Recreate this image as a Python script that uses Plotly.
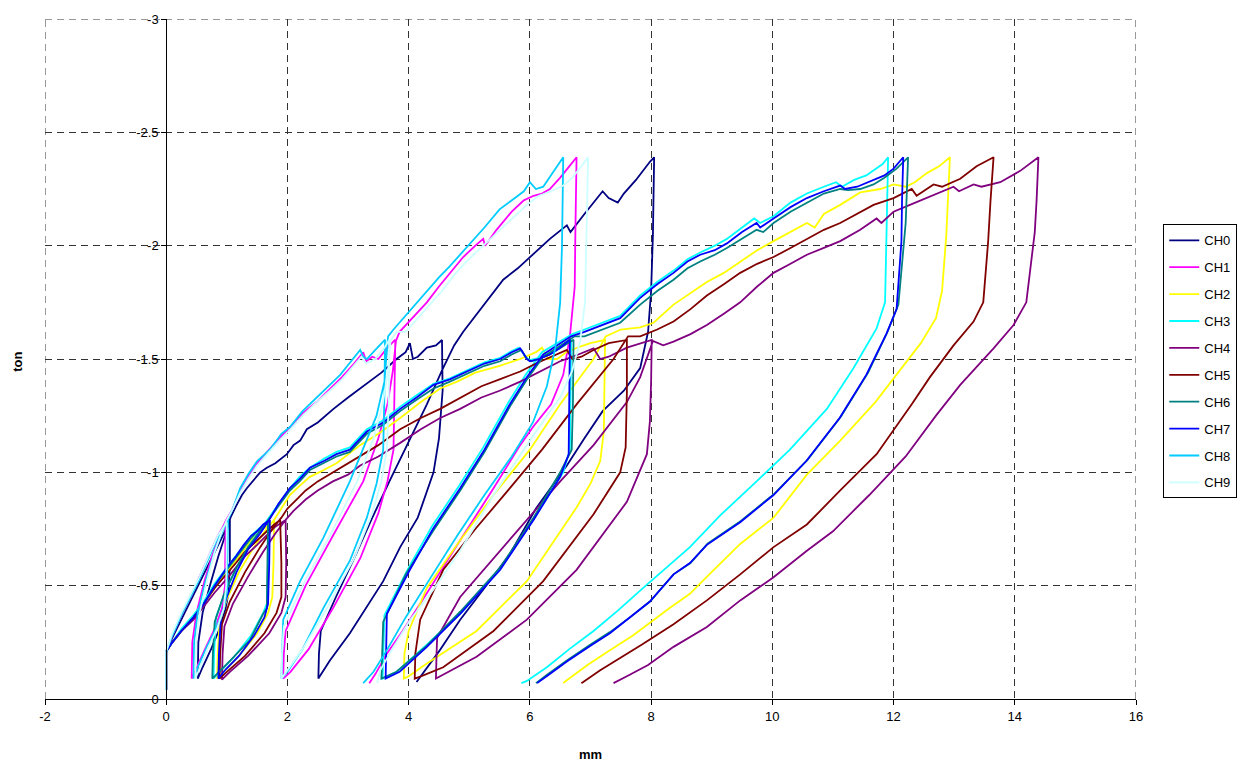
import plotly.graph_objects as go

# ---- data: (mm, ton) points, per channel ----
CH0 = [(0,-0.04),(0,-0.21),(0.1,-0.27),(0.25,-0.35),(0.4,-0.43),(0.55,-0.51),(0.7,-0.59),(0.85,-0.67),(0.95,-0.73),(1.05,-0.79),
(1.05,-0.6),(1.03,-0.47),(0.98,-0.4),(0.88,-0.31),(0.74,-0.22),(0.6,-0.14),(0.52,-0.09),
(0.53,-0.25),(0.6,-0.38),(0.72,-0.5),(0.86,-0.63),(0.97,-0.72),(1.06,-0.8),
(1.15,-0.85),(1.25,-0.9),(1.33,-0.93),(1.45,-0.97),(1.55,-1.0),(1.66,-1.02),(1.8,-1.04),(1.99,-1.08),(2.1,-1.12),(2.21,-1.14),(2.32,-1.19),(2.5,-1.22),(2.76,-1.28),(3.0,-1.33),(3.31,-1.39),(3.55,-1.44),(3.8,-1.5),(3.95,-1.53),(4.02,-1.57),(4.07,-1.5),(4.15,-1.51),(4.3,-1.55),(4.45,-1.56),(4.55,-1.584),
(4.56,-1.36),(4.5,-1.15),(4.41,-1.0),(4.15,-0.8),(3.86,-0.67),(3.58,-0.52),(3.03,-0.29),(2.7,-0.17),(2.51,-0.09),
(2.52,-0.2),(2.55,-0.3),(2.8,-0.45),(3.1,-0.62),(3.4,-0.8),(3.7,-0.97),(4.02,-1.15),(4.3,-1.3),(4.55,-1.45),(4.75,-1.56),(4.9,-1.62),
(5.1,-1.69),(5.3,-1.76),(5.56,-1.85),(5.8,-1.9),(6.0,-1.95),(6.33,-2.03),(6.61,-2.09),(6.67,-2.06),(6.9,-2.14),(7.2,-2.24),(7.3,-2.21),(7.45,-2.19),(7.55,-2.23),(7.75,-2.29),(7.98,-2.37),(8.05,-2.39),
(8.03,-2.05),(8.0,-1.8),(7.95,-1.62),(7.82,-1.46),(7.55,-1.36),(7.2,-1.27),(6.9,-1.15),(6.61,-1.03),(6.1,-0.84),(5.67,-0.64),(5.25,-0.49),(4.85,-0.35),(4.5,-0.21),(4.25,-0.12),(4.13,-0.075)]

CH1 = [(0,-0.04),(0,-0.21),(0.1,-0.28),(0.25,-0.37),(0.4,-0.45),(0.55,-0.54),(0.7,-0.63),(0.85,-0.72),(0.98,-0.78),
(0.97,-0.5),(0.92,-0.4),(0.8,-0.31),(0.64,-0.22),(0.5,-0.14),(0.42,-0.09),
(0.43,-0.25),(0.5,-0.38),(0.63,-0.52),(0.78,-0.65),(0.9,-0.74),(0.99,-0.79),
(1.1,-0.84),(1.22,-0.92),(1.35,-0.98),(1.5,-1.04),(1.7,-1.1),(1.9,-1.16),(2.05,-1.2),(2.25,-1.26),(2.48,-1.31),(2.7,-1.37),(2.9,-1.42),(3.1,-1.48),(3.25,-1.53),(3.3,-1.49),(3.4,-1.51),(3.5,-1.5),(3.65,-1.55),(3.78,-1.585),
(3.77,-1.35),(3.75,-1.1),(3.65,-0.96),(3.5,-0.82),(3.2,-0.62),(2.75,-0.4),(2.35,-0.22),(2.05,-0.12),(1.93,-0.09),
(1.94,-0.2),(1.97,-0.3),(2.3,-0.5),(2.75,-0.72),(3.25,-0.96),(3.5,-1.15),(3.65,-1.3),(3.74,-1.45),(3.79,-1.58),(3.85,-1.62),
(4.1,-1.69),(4.3,-1.75),(4.5,-1.82),(4.68,-1.88),(4.9,-1.95),(5.1,-2.0),(5.23,-2.03),(5.26,-2.0),(5.45,-2.07),(5.7,-2.15),(5.9,-2.2),(6.06,-2.22),(6.2,-2.23),(6.33,-2.25),(6.5,-2.3),(6.65,-2.35),(6.77,-2.39),
(6.75,-2.05),(6.74,-1.82),(6.66,-1.6),(6.55,-1.43),(6.35,-1.3),(6.05,-1.2),(5.84,-1.12),(5.4,-0.93),(4.85,-0.7),(4.5,-0.55),(4.19,-0.42),(3.9,-0.3),(3.64,-0.2),(3.45,-0.11),(3.35,-0.07)]

CH2 = [(0,-0.04),(0,-0.21),(0.1,-0.25),(0.25,-0.3),(0.45,-0.36),(0.62,-0.42),(0.8,-0.49),(1.0,-0.56),(1.15,-0.61),(1.28,-0.66),(1.4,-0.7),(1.55,-0.74),(1.65,-0.76),(1.78,-0.785),
(1.77,-0.6),(1.75,-0.45),(1.68,-0.38),(1.5,-0.29),(1.2,-0.19),(0.95,-0.12),(0.84,-0.09),
(0.85,-0.2),(0.88,-0.34),(1.0,-0.44),(1.2,-0.56),(1.4,-0.65),(1.6,-0.73),(1.78,-0.79),
(1.9,-0.84),(2.04,-0.9),(2.2,-0.94),(2.37,-0.98),(2.6,-1.01),(2.81,-1.04),(3.2,-1.12),(3.5,-1.17),(3.86,-1.24),(4.2,-1.31),(4.52,-1.37),(4.8,-1.4),(5.1,-1.44),(5.5,-1.47),(5.84,-1.5),(6.1,-1.53),(6.2,-1.55),(6.3,-1.5),(6.45,-1.5),(6.6,-1.53),(6.83,-1.555),(7.0,-1.57),(7.24,-1.584),
(7.23,-1.35),(7.22,-1.18),(7.16,-1.05),(7.0,-0.95),(6.77,-0.845),(5.95,-0.52),(5.12,-0.3),(4.3,-0.157),(4.0,-0.1),(3.92,-0.09),
(3.93,-0.2),(4.0,-0.3),(4.3,-0.49),(4.85,-0.7),(5.4,-0.9),(6.0,-1.1),(6.5,-1.3),(6.8,-1.41),(7.05,-1.5),(7.25,-1.6),
(7.5,-1.63),(7.82,-1.64),(8.04,-1.66),(8.37,-1.74),(8.65,-1.79),(8.92,-1.84),(9.2,-1.88),(9.47,-1.93),(9.75,-1.98),(10.02,-2.02),(10.3,-2.06),(10.57,-2.1),(10.7,-2.08),(10.85,-2.14),(11.12,-2.18),(11.45,-2.235),(11.78,-2.25),(12.0,-2.27),(12.2,-2.26),(12.35,-2.28),(12.55,-2.32),(12.75,-2.35),(12.93,-2.39),
(12.9,-2.2),(12.87,-2.045),(12.8,-1.8),(12.7,-1.68),(12.45,-1.57),(12.1,-1.45),(11.7,-1.31),(11.12,-1.14),(10.57,-0.99),(10.02,-0.8),(9.47,-0.684),(8.81,-0.51),(8.64,-0.464),(8.3,-0.4),(8.04,-0.347),(7.7,-0.28),(7.32,-0.215),(6.95,-0.15),(6.61,-0.083),(6.55,-0.07)]

CH3 = [(0,-0.04),(0,-0.21),(0.1,-0.25),(0.25,-0.31),(0.45,-0.37),(0.62,-0.43),(0.8,-0.51),(1.0,-0.58),(1.15,-0.63),(1.28,-0.68),(1.4,-0.72),(1.5,-0.745),(1.6,-0.77),(1.69,-0.79),
(1.68,-0.6),(1.66,-0.42),(1.6,-0.38),(1.4,-0.28),(1.1,-0.18),(0.85,-0.11),(0.78,-0.09),
(0.79,-0.2),(0.82,-0.36),(0.97,-0.47),(1.16,-0.58),(1.35,-0.67),(1.55,-0.745),(1.7,-0.8),
(1.85,-0.86),(2.04,-0.93),(2.2,-0.98),(2.37,-1.02),(2.6,-1.06),(2.81,-1.09),(3.03,-1.11),(3.31,-1.19),(3.58,-1.23),(3.86,-1.29),(4.13,-1.34),(4.41,-1.39),(4.68,-1.415),(4.96,-1.45),(5.25,-1.485),(5.51,-1.505),(5.7,-1.535),(5.82,-1.55),(5.93,-1.51),(6.0,-1.495),(6.15,-1.505),(6.33,-1.525),(6.5,-1.555),(6.68,-1.585),
(6.67,-1.3),(6.66,-1.1),(6.55,-1.0),(6.1,-0.81),(5.55,-0.59),(4.9,-0.39),(4.3,-0.24),(3.8,-0.12),(3.57,-0.09),
(3.58,-0.2),(3.6,-0.37),(3.98,-0.57),(4.38,-0.76),(4.83,-0.94),(5.23,-1.11),(5.65,-1.31),(5.93,-1.43),(6.2,-1.53),(6.48,-1.575),(6.7,-1.61),
(6.9,-1.63),(7.2,-1.66),(7.49,-1.69),(7.82,-1.78),(8.1,-1.84),(8.37,-1.89),(8.6,-1.94),(8.81,-1.97),(9.05,-2.0),(9.25,-2.03),(9.5,-2.08),(9.7,-2.12),(9.8,-2.1),(10.02,-2.13),(10.3,-2.19),(10.57,-2.23),(10.85,-2.26),(11.05,-2.28),(11.15,-2.26),(11.35,-2.29),(11.55,-2.31),(11.7,-2.34),(11.82,-2.36),(11.91,-2.39),
(11.89,-2.1),(11.86,-1.75),(11.72,-1.635),(11.34,-1.46),(10.9,-1.28),(10.29,-1.1),(9.74,-0.96),(9.14,-0.81),(8.64,-0.67),(8.25,-0.58),(7.87,-0.49),(7.45,-0.39),(7.05,-0.3),(6.65,-0.22),(6.28,-0.14),(5.95,-0.08),(5.86,-0.07)]

CH4 = [(0,-0.04),(0,-0.21),(0.1,-0.25),(0.25,-0.3),(0.45,-0.35),(0.62,-0.41),(0.8,-0.47),(1.0,-0.53),(1.15,-0.58),(1.3,-0.63),(1.5,-0.68),(1.65,-0.72),(1.8,-0.76),(1.97,-0.79),
(1.98,-0.6),(1.97,-0.45),(1.9,-0.38),(1.7,-0.29),(1.35,-0.19),(1.05,-0.12),(0.92,-0.085),
(0.93,-0.2),(0.96,-0.32),(1.1,-0.42),(1.35,-0.54),(1.6,-0.65),(1.8,-0.73),(1.97,-0.79),
(2.1,-0.83),(2.3,-0.88),(2.5,-0.92),(2.75,-0.96),(3.0,-0.99),(3.2,-1.03),(3.5,-1.07),(3.86,-1.13),(4.2,-1.19),(4.52,-1.24),(4.85,-1.28),(5.2,-1.33),(5.5,-1.36),(5.84,-1.4),(6.2,-1.45),(6.5,-1.49),(6.8,-1.52),(7.05,-1.547),(7.16,-1.5),(7.3,-1.51),(7.6,-1.55),(7.8,-1.565),(8.01,-1.584),
(8.0,-1.4),(7.98,-1.225),(7.93,-1.08),(7.6,-0.87),(6.77,-0.57),(5.95,-0.35),(5.12,-0.186),(4.6,-0.11),(4.45,-0.09),
(4.46,-0.2),(4.47,-0.27),(4.85,-0.45),(5.4,-0.62),(5.95,-0.79),(6.5,-0.96),(7.05,-1.12),(7.6,-1.31),(7.82,-1.42),(7.93,-1.5),(8.03,-1.58),
(8.2,-1.56),(8.37,-1.577),(8.65,-1.61),(8.92,-1.65),(9.2,-1.7),(9.47,-1.75),(9.75,-1.82),(10.02,-1.88),(10.3,-1.92),(10.57,-1.96),(10.85,-1.99),(11.12,-2.02),(11.45,-2.07),(11.72,-2.12),(11.8,-2.1),(12.0,-2.15),(12.27,-2.18),(12.55,-2.21),(12.8,-2.24),(12.99,-2.26),(13.08,-2.24),(13.32,-2.27),(13.45,-2.26),(13.76,-2.28),(14.09,-2.33),(14.25,-2.36),(14.39,-2.39),
(14.36,-2.2),(14.33,-2.06),(14.19,-1.75),(13.98,-1.65),(13.65,-1.547),(13.1,-1.386),(12.7,-1.25),(12.2,-1.07),(11.6,-0.9),(11.0,-0.74),(10.57,-0.654),(10.02,-0.537),(9.47,-0.435),(8.92,-0.318),(8.37,-0.23),(7.95,-0.15),(7.6,-0.1),(7.43,-0.075),(7.38,-0.07)]

CH5 = [(0,-0.04),(0,-0.21),(0.1,-0.25),(0.25,-0.3),(0.45,-0.36),(0.62,-0.42),(0.8,-0.49),(1.0,-0.55),(1.15,-0.6),(1.3,-0.65),(1.5,-0.7),(1.65,-0.74),(1.78,-0.77),(1.88,-0.79),
(1.9,-0.6),(1.9,-0.45),(1.82,-0.38),(1.62,-0.29),(1.3,-0.19),(1.0,-0.12),(0.88,-0.09),
(0.89,-0.2),(0.92,-0.33),(1.05,-0.43),(1.3,-0.56),(1.55,-0.67),(1.75,-0.75),(1.9,-0.8),
(2.0,-0.84),(2.15,-0.88),(2.3,-0.92),(2.5,-0.96),(2.75,-1.0),(3.0,-1.04),(3.2,-1.07),(3.5,-1.12),(3.86,-1.19),(4.2,-1.24),(4.52,-1.28),(4.85,-1.33),(5.2,-1.38),(5.5,-1.41),(5.84,-1.445),(6.1,-1.48),(6.35,-1.51),(6.61,-1.54),(6.7,-1.5),(6.85,-1.51),(7.05,-1.54),(7.3,-1.57),(7.6,-1.584),
(7.6,-1.35),(7.58,-1.11),(7.49,-1.0),(7.05,-0.815),(6.22,-0.52),(5.4,-0.3),(4.57,-0.14),(4.2,-0.1),(4.1,-0.09),
(4.11,-0.2),(4.19,-0.35),(4.57,-0.57),(5.1,-0.75),(5.67,-0.93),(6.2,-1.1),(6.77,-1.3),(7.1,-1.41),(7.38,-1.5),(7.62,-1.6),
(7.82,-1.6),(8.1,-1.63),(8.37,-1.665),(8.65,-1.72),(8.92,-1.78),(9.2,-1.83),(9.47,-1.88),(9.75,-1.92),(10.02,-1.95),(10.3,-1.99),(10.57,-2.03),(10.85,-2.07),(11.12,-2.1),(11.45,-2.15),(11.67,-2.18),(12.0,-2.21),(12.3,-2.25),(12.38,-2.22),(12.66,-2.27),(12.8,-2.26),(13.1,-2.295),(13.37,-2.35),(13.65,-2.39),
(13.6,-2.2),(13.56,-2.016),(13.48,-1.75),(13.32,-1.665),(12.99,-1.56),(12.6,-1.42),(12.3,-1.3),(11.72,-1.08),(11.12,-0.92),(10.57,-0.77),(10.02,-0.67),(9.47,-0.55),(8.92,-0.435),(8.37,-0.33),(7.85,-0.24),(7.16,-0.127),(6.88,-0.075),(6.85,-0.07)]

CH6 = [(0,-0.04),(0,-0.21),(0.1,-0.25),(0.25,-0.3),(0.45,-0.36),(0.62,-0.42),(0.8,-0.5),(1.0,-0.57),(1.15,-0.62),(1.28,-0.67),(1.4,-0.71),(1.5,-0.74),(1.6,-0.76),(1.68,-0.78),
(1.67,-0.6),(1.66,-0.4),(1.6,-0.376),(1.38,-0.26),(1.06,-0.17),(0.8,-0.1),(0.76,-0.09),
(0.77,-0.2),(0.8,-0.34),(0.95,-0.46),(1.16,-0.58),(1.35,-0.67),(1.55,-0.74),(1.69,-0.79),
(1.85,-0.85),(2.04,-0.92),(2.2,-0.96),(2.37,-1.01),(2.6,-1.04),(2.81,-1.07),(3.03,-1.09),(3.31,-1.17),(3.58,-1.21),(3.86,-1.27),(4.13,-1.32),(4.41,-1.37),(4.68,-1.4),(4.96,-1.435),(5.25,-1.47),(5.51,-1.49),(5.7,-1.52),(5.86,-1.54),(5.95,-1.5),(6.02,-1.49),(6.15,-1.5),(6.33,-1.52),(6.5,-1.55),(6.72,-1.585),
(6.71,-1.3),(6.69,-1.1),(6.5,-1.0),(6.06,-0.8),(5.51,-0.58),(4.85,-0.385),(4.3,-0.235),(3.8,-0.12),(3.55,-0.09),
(3.56,-0.2),(3.58,-0.34),(3.95,-0.55),(4.4,-0.74),(4.85,-0.92),(5.25,-1.09),(5.67,-1.29),(5.95,-1.41),(6.22,-1.51),(6.5,-1.56),(6.74,-1.6),
(6.9,-1.6),(7.2,-1.63),(7.49,-1.66),(7.82,-1.74),(8.1,-1.8),(8.37,-1.85),(8.6,-1.9),(8.81,-1.93),(9.05,-1.96),(9.25,-1.99),(9.5,-2.03),(9.74,-2.07),(9.85,-2.06),(10.02,-2.1),(10.3,-2.15),(10.57,-2.19),(10.85,-2.23),(11.12,-2.25),(11.25,-2.245),(11.45,-2.25),(11.67,-2.27),(11.85,-2.3),(12.05,-2.34),(12.24,-2.39),
(12.2,-2.1),(12.15,-1.95),(12.08,-1.74),(11.9,-1.62),(11.58,-1.44),(11.13,-1.245),(10.58,-1.055),(10.03,-0.905),(9.48,-0.785),(8.93,-0.685),(8.65,-0.6),(8.37,-0.55),(7.98,-0.43),(7.65,-0.36),(7.32,-0.295),(7.0,-0.24),(6.61,-0.17),(6.3,-0.11),(6.1,-0.07)]

CH7 = [(0,-0.04),(0,-0.21),(0.1,-0.25),(0.25,-0.3),(0.45,-0.36),(0.62,-0.42),(0.8,-0.5),(1.0,-0.58),(1.15,-0.63),(1.28,-0.68),(1.4,-0.72),(1.5,-0.74),(1.6,-0.77),(1.71,-0.79),
(1.7,-0.6),(1.68,-0.42),(1.62,-0.36),(1.45,-0.28),(1.2,-0.19),(0.98,-0.13),(0.86,-0.09),
(0.87,-0.2),(0.9,-0.36),(1.0,-0.45),(1.16,-0.56),(1.35,-0.66),(1.55,-0.73),(1.72,-0.8),
(1.85,-0.86),(2.04,-0.93),(2.2,-0.97),(2.37,-1.02),(2.6,-1.05),(2.81,-1.08),(3.03,-1.1),(3.31,-1.18),(3.58,-1.22),(3.86,-1.28),(4.13,-1.33),(4.41,-1.386),(4.68,-1.41),(4.96,-1.445),(5.25,-1.48),(5.51,-1.5),(5.7,-1.53),(5.84,-1.547),(5.95,-1.5),(6.0,-1.49),(6.15,-1.5),(6.33,-1.52),(6.5,-1.55),(6.66,-1.585),
(6.65,-1.3),(6.64,-1.08),(6.5,-0.98),(6.06,-0.79),(5.51,-0.57),(4.85,-0.376),(4.3,-0.23),(3.85,-0.12),(3.62,-0.09),
(3.63,-0.2),(3.64,-0.376),(4.02,-0.57),(4.4,-0.75),(4.85,-0.93),(5.25,-1.1),(5.67,-1.3),(5.95,-1.42),(6.22,-1.52),(6.5,-1.57),(6.68,-1.6),
(6.9,-1.62),(7.2,-1.65),(7.49,-1.68),(7.82,-1.77),(8.1,-1.83),(8.37,-1.88),(8.6,-1.93),(8.81,-1.96),(9.05,-1.98),(9.25,-2.01),(9.5,-2.06),(9.74,-2.1),(9.8,-2.08),(10.02,-2.12),(10.3,-2.17),(10.57,-2.21),(10.85,-2.24),(11.12,-2.265),(11.2,-2.25),(11.4,-2.26),(11.67,-2.29),(11.85,-2.31),(12.0,-2.34),(12.16,-2.39),
(12.14,-2.2),(12.13,-2.02),(12.05,-1.72),(11.88,-1.61),(11.55,-1.43),(11.11,-1.24),(10.56,-1.05),(10.02,-0.9),(9.47,-0.78),(8.92,-0.68),(8.64,-0.6),(8.37,-0.55),(7.98,-0.43),(7.65,-0.36),(7.32,-0.29),(7.0,-0.235),(6.61,-0.165),(6.3,-0.105),(6.12,-0.07)]

CH8 = [(0,-0.04),(0,-0.21),(0.1,-0.28),(0.25,-0.37),(0.4,-0.45),(0.55,-0.53),(0.7,-0.62),(0.85,-0.71),(0.95,-0.76),(1.02,-0.79),
(1.0,-0.47),(0.95,-0.4),(0.84,-0.32),(0.67,-0.23),(0.52,-0.14),(0.45,-0.09),
(0.46,-0.25),(0.52,-0.38),(0.65,-0.52),(0.8,-0.65),(0.93,-0.74),(1.02,-0.79),
(1.1,-0.84),(1.22,-0.93),(1.35,-0.99),(1.5,-1.05),(1.71,-1.1),(1.9,-1.17),(2.04,-1.2),(2.25,-1.27),(2.48,-1.33),(2.7,-1.39),(2.87,-1.43),(3.05,-1.49),(3.2,-1.54),(3.25,-1.51),(3.31,-1.5),(3.45,-1.54),(3.58,-1.577),(3.61,-1.585),
(3.6,-1.35),(3.58,-1.1),(3.47,-0.95),(3.31,-0.8),(3.03,-0.61),(2.59,-0.4),(2.25,-0.22),(2.0,-0.12),(1.9,-0.09),
(1.91,-0.2),(1.93,-0.35),(2.21,-0.52),(2.59,-0.71),(3.03,-0.96),(3.3,-1.14),(3.47,-1.25),(3.6,-1.4),(3.63,-1.5),(3.66,-1.6),
(3.75,-1.63),(3.91,-1.68),(4.1,-1.74),(4.3,-1.8),(4.5,-1.86),(4.68,-1.91),(4.85,-1.96),(5.01,-2.01),(5.25,-2.08),(5.5,-2.16),(5.7,-2.2),(5.9,-2.24),(6.0,-2.28),(6.1,-2.25),(6.22,-2.26),(6.35,-2.31),(6.48,-2.36),(6.55,-2.39),
(6.53,-2.0),(6.5,-1.75),(6.42,-1.55),(6.28,-1.38),(6.05,-1.22),(5.7,-1.07),(5.25,-0.9),(4.8,-0.72),(4.35,-0.53),(3.95,-0.36),(3.65,-0.22),(3.42,-0.12),(3.25,-0.07)]

CH9 = [(0,-0.04),(0,-0.21),(0.1,-0.29),(0.25,-0.38),(0.4,-0.46),(0.55,-0.54),(0.7,-0.63),(0.85,-0.72),(1.0,-0.78),
(0.99,-0.5),(0.95,-0.4),(0.84,-0.31),(0.68,-0.22),(0.55,-0.14),(0.48,-0.09),
(0.49,-0.25),(0.55,-0.38),(0.67,-0.52),(0.8,-0.65),(0.92,-0.74),(1.0,-0.79),
(1.1,-0.84),(1.22,-0.91),(1.35,-0.97),(1.5,-1.03),(1.7,-1.09),(1.9,-1.15),(2.05,-1.19),(2.25,-1.25),(2.48,-1.31),(2.7,-1.36),(2.9,-1.41),(3.1,-1.47),(3.22,-1.51),(3.3,-1.48),(3.45,-1.5),(3.6,-1.55),(3.68,-1.585),
(3.67,-1.3),(3.64,-1.1),(3.55,-0.96),(3.4,-0.82),(3.1,-0.62),(2.65,-0.4),(2.25,-0.22),(1.98,-0.12),(1.9,-0.09),
(1.91,-0.2),(1.94,-0.32),(2.25,-0.5),(2.7,-0.72),(3.15,-0.96),(3.42,-1.15),(3.57,-1.3),(3.66,-1.45),(3.7,-1.58),(3.8,-1.62),
(3.95,-1.62),(4.15,-1.68),(4.35,-1.74),(4.55,-1.8),(4.75,-1.87),(4.95,-1.93),(5.15,-1.98),(5.35,-2.03),(5.55,-2.08),(5.75,-2.13),(5.95,-2.18),(6.15,-2.22),(6.35,-2.24),(6.55,-2.265),(6.7,-2.3),(6.85,-2.35),(6.96,-2.39),
(6.93,-2.0),(6.91,-1.75),(6.83,-1.58),(6.7,-1.45),(6.5,-1.33),(6.28,-1.25),(5.95,-1.12),(5.4,-0.9),(4.85,-0.654),(4.4,-0.48),(4.02,-0.347),(3.75,-0.23),(3.53,-0.127),(3.48,-0.07)]

SERIES_NAMES = ["CH0", "CH1", "CH2", "CH3", "CH4", "CH5", "CH6", "CH7", "CH8", "CH9"]
SERIES_DATA = [CH0, CH1, CH2, CH3, CH4, CH5, CH6, CH7, CH8, CH9]
SERIES_COLORS = ["#000080", "#FF00FF", "#FFFF00", "#00FFFF", "#800080",
                 "#800000", "#008080", "#0000FF", "#00CCFF", "#CCFFFF"]

X_TICKS = [-2, 0, 2, 4, 6, 8, 10, 12, 14, 16]
X_TICK_TEXT = ["-2", "0", "2", "4", "6", "8", "10", "12", "14", "16"]
Y_TICKS = [0, -0.5, -1, -1.5, -2, -2.5, -3]
Y_TICK_TEXT = ["0", "-0.5", "-1", "-1.5", "-2", "-2.5", "-3"]
X_RANGE = [-2, 16]
Y_RANGE = [0, -3]

FONT = "Arial, Liberation Sans, sans-serif"
GRID_COLOR = "#333333"
GRID_DASH = "7px,5px"

fig = go.Figure()
for name, pts, col in zip(SERIES_NAMES, SERIES_DATA, SERIES_COLORS):
    fig.add_trace(go.Scatter(
        x=[p[0] for p in pts], y=[p[1] for p in pts],
        mode="lines", name=name, legendgroup=name,
        line=dict(color=col, width=1.8),
    ))

# dashed gridlines on the plot-area edges (left, right, top)
edge_shapes = [
    dict(type="line", xref="x", yref="y", x0=X_RANGE[0], x1=X_RANGE[0], y0=Y_RANGE[0], y1=Y_RANGE[1]),
    dict(type="line", xref="x", yref="y", x0=X_RANGE[1], x1=X_RANGE[1], y0=Y_RANGE[0], y1=Y_RANGE[1]),
    dict(type="line", xref="x", yref="y", x0=X_RANGE[0], x1=X_RANGE[1], y0=Y_RANGE[1], y1=Y_RANGE[1]),
]
for s in edge_shapes:
    s["line"] = dict(color=GRID_COLOR, width=1, dash=GRID_DASH)
    s["layer"] = "below"

fig.update_layout(
    width=1259, height=768,
    margin=dict(l=45, r=123, t=16, b=69),
    paper_bgcolor="white", plot_bgcolor="white",
    font=dict(family=FONT, size=13, color="black"),
    showlegend=True,
    shapes=edge_shapes,
    legend=dict(
        x=1.025, xanchor="left", y=0.698, yanchor="top",
        bordercolor="black", borderwidth=1, bgcolor="white",
        font=dict(family=FONT, size=13, color="black"),
        tracegroupgap=7, itemwidth=30,
    ),
    xaxis=dict(
        range=X_RANGE, tickmode="array", tickvals=X_TICKS, ticktext=X_TICK_TEXT,
        showgrid=True, gridcolor=GRID_COLOR, gridwidth=1, griddash=GRID_DASH,
        showline=True, linecolor="black", linewidth=1,
        ticks="outside", ticklen=5, tickcolor="black",
        zeroline=False, anchor="y",
        tickfont=dict(family=FONT, size=13, color="black"),
    ),
    yaxis=dict(
        range=Y_RANGE, tickmode="array", tickvals=Y_TICKS, ticktext=Y_TICK_TEXT,
        showgrid=True, gridcolor=GRID_COLOR, gridwidth=1, griddash=GRID_DASH,
        showline=True, linecolor="black", linewidth=1,
        ticks="outside", ticklen=5, tickcolor="black",
        zeroline=False, anchor="free", position=2 / 18,
        tickfont=dict(family=FONT, size=13, color="black"),
    ),
    annotations=[
        dict(text="<b>mm</b>", xref="paper", yref="paper", x=0.5, y=-0.082,
             showarrow=False, xanchor="center", yanchor="middle",
             font=dict(family=FONT, size=13, color="black")),
        dict(text="<b>ton</b>", xref="paper", yref="paper", x=-0.0247, y=0.496,
             showarrow=False, xanchor="center", yanchor="middle", textangle=-90,
             font=dict(family=FONT, size=13, color="black")),
    ],
)

fig.write_html("out.html")
